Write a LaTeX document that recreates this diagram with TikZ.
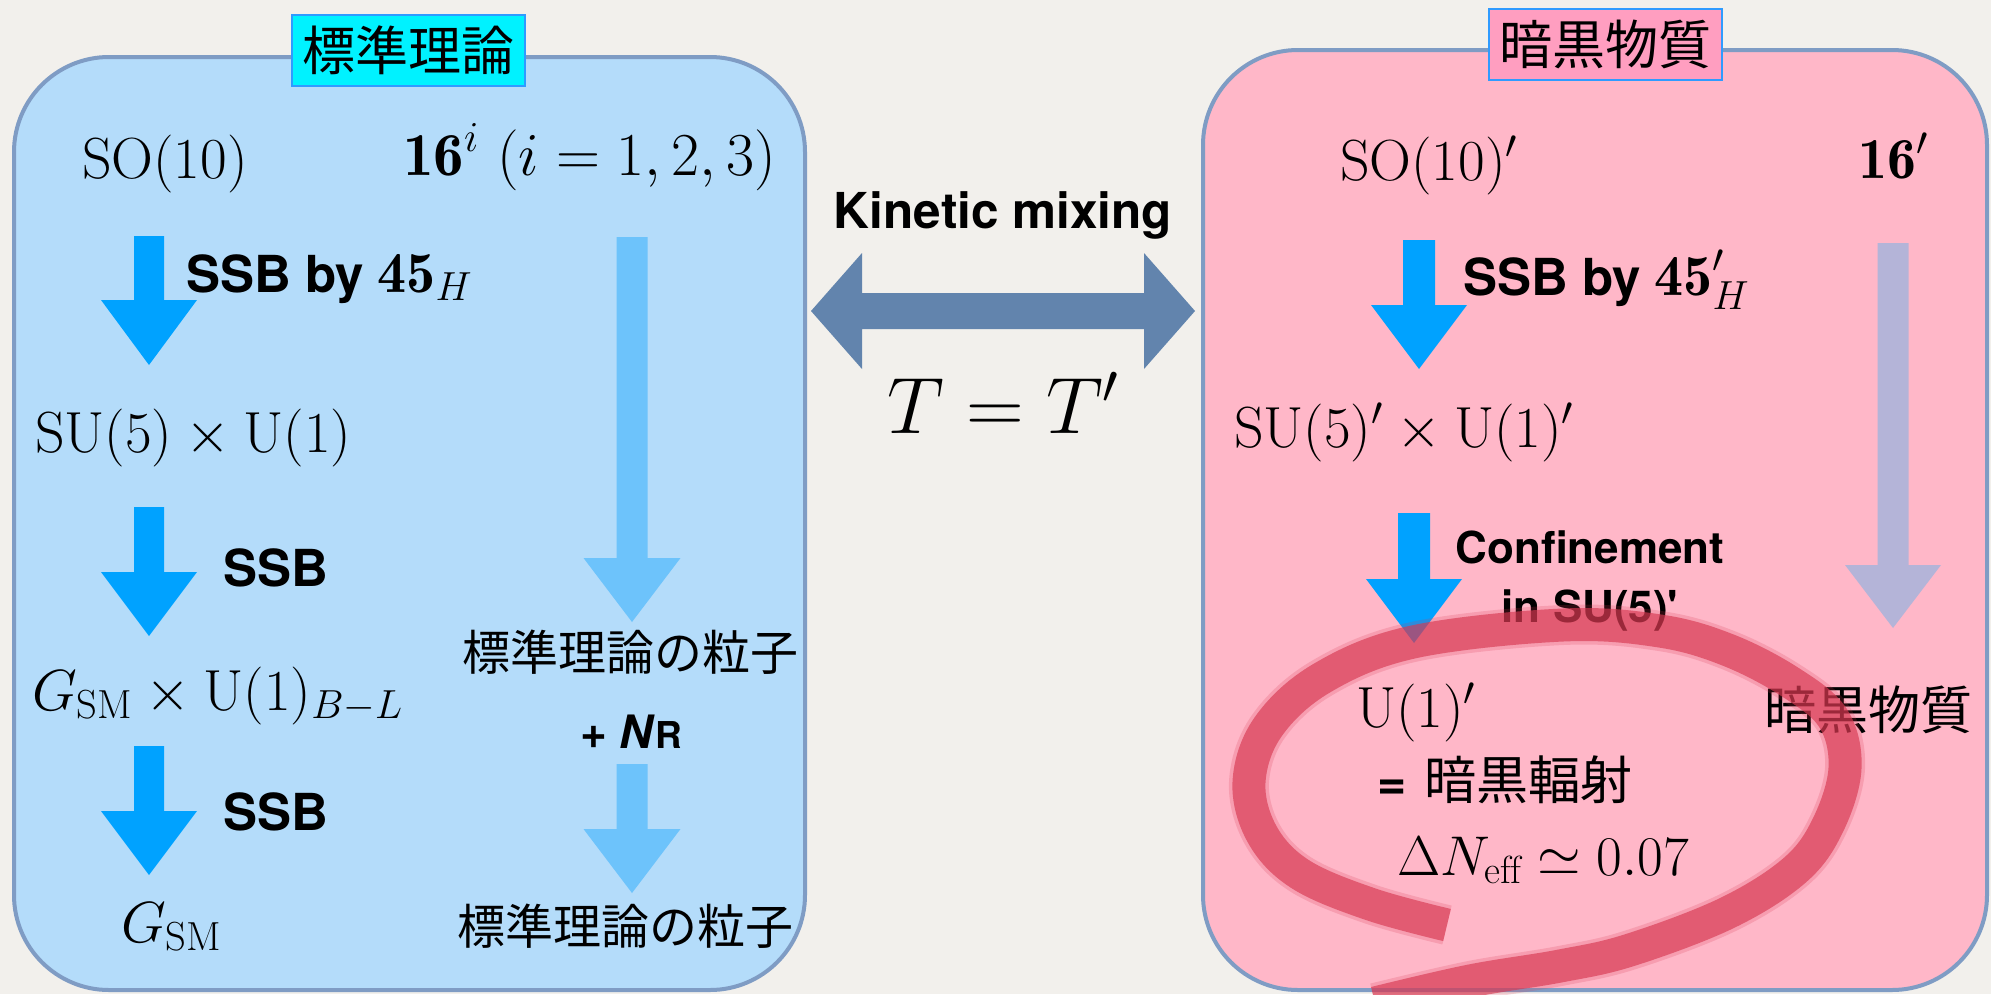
\RequirePackage{fix-cm}
\documentclass[tikz,border=0pt]{standalone}
\usepackage{fontspec}
\newfontfamily\jp{Noto Sans CJK JP}
\newfontfamily\hv{TeX Gyre Heros}

\definecolor{bg}{HTML}{F2F0EC}
\definecolor{smfill}{HTML}{B4DCFA}
\definecolor{dmfill}{HTML}{FFB7C8}
\definecolor{boxline}{HTML}{7F9CC4}
\definecolor{arrowblue}{HTML}{00A2FF}
\definecolor{arrowlight}{HTML}{6DC3FB}
\definecolor{arrowlav}{HTML}{B4B4D8}
\definecolor{mixarrow}{HTML}{6284AD}
\definecolor{cyanlab}{HTML}{00F2FF}
\definecolor{pinklab}{HTML}{FF9EC0}
\definecolor{labline}{HTML}{2F9BFF}
\definecolor{ringred}{RGB}{216,56,81}

% colour, x centre, top, head base, tip, shaft half width, head half width
\newcommand\downblock[7]{%
  \fill[#1] (#2-#6,#3) -- (#2+#6,#3) -- (#2+#6,#4) -- (#2+#7,#4) -- (#2,#5)
    -- (#2-#7,#4) -- (#2-#6,#4) -- cycle;}
\newcommand\bigmath{\fontsize{58}{60}\selectfont}

\tikzset{
  tx/.style={inner sep=0pt, outer sep=0pt, anchor=base west},
  mth/.style={font=\bigmath},
  hvb/.style={font=\hv\bfseries\fontsize{51}{54}\selectfont},
  hvc/.style={inner sep=0pt, font=\hv\bfseries\fontsize{44}{46}\selectfont},
  jpt/.style={inner sep=0pt, anchor=west, font=\jp\fontsize{48}{50}\selectfont},
  lab/.style={draw=labline, line width=2pt, inner sep=0pt, minimum width=233pt,
    minimum height=71pt, font=\jp\fontsize{53}{53}\selectfont},
  panel/.style={draw=boxline, line width=4pt, rounded corners=95pt},
}

\begin{document}
\begin{tikzpicture}[x=1pt,y=-1pt]
\useasboundingbox (0,0) rectangle (1991,994);
\fill[bg] (0,0) rectangle (1991,994);

% panels
\draw[panel, fill=smfill] (14,57) rectangle (805,990);
\draw[panel, fill=dmfill] (1203,50) rectangle (1987,990);

% titles
\node[lab, fill=cyanlab] (smlab) at (408.5,50.5) {標準理論};
\node[lab, fill=pinklab] (dmlab) at (1605,44.5) {暗黒物質};

% left panel arrows
\downblock{arrowblue}{149}{236}{300}{365}{15}{48}
\downblock{arrowblue}{149}{507}{572}{636}{15}{48}
\downblock{arrowblue}{149}{746}{811}{875}{15}{48}
\downblock{arrowlight}{632}{237}{558}{622}{15.5}{48.5}
\downblock{arrowlight}{632}{764}{829}{893}{15.5}{48.5}

% right panel arrows
\downblock{arrowblue}{1419}{240}{305}{369}{16}{48}
\downblock{arrowblue}{1414}{513}{579}{643}{16}{48}
\downblock{arrowlav}{1893}{243}{565}{628}{15.5}{48}

% kinetic mixing double arrow
\fill[mixarrow] (811,311) -- (862,253) -- (862,293) -- (1144,293) -- (1144,253)
  -- (1195,311) -- (1144,369) -- (1144,329) -- (862,329) -- (862,369) -- cycle;

% left panel text
\node[tx, mth] (so10) at (82,178) {$\mathrm{SO}(10)$};
\node[tx, font=\fontsize{61}{63}\selectfont] (sixteen) at (403,175) {$\mathbf{16}^i\ (i=1,2,3)$};
\node[tx, hvb] (ssba) at (186,292) {SSB by {\bigmath$\mathbf{45}_H$}};
\node[tx, mth] (su5) at (35,452) {$\mathrm{SU}(5)\times\mathrm{U}(1)$};
\node[tx, hvb] (ssbb) at (223,586) {SSB};
\node[tx, mth] (gsmbl) at (32,710) {$G_{\mathrm{SM}}\times\mathrm{U}(1)_{B-L}$};
\node[tx, hvb] (ssbc) at (223,830) {SSB};
\node[tx, mth] (gsm) at (121,942) {$G_{\mathrm{SM}}$};
\node[jpt] (smpa) at (462,652) {標準理論の粒子};
\node[tx, font=\hv\bfseries\fontsize{46}{48}\selectfont] (nr) at (580,748)
  {+ \textit{N}{\fontsize{37}{37}\selectfont R}};
\node[jpt] (smpb) at (457,926) {標準理論の粒子};

% middle
\node[anchor=base, inner sep=0pt, font=\hv\bfseries\fontsize{49.5}{50}\selectfont] (kin)
  at (1003,228) {Kinetic mixing};
\node[anchor=base, inner sep=0pt, font=\fontsize{80}{80}\selectfont] (tt)
  at (1003,433) {$T=T'$};

% right panel text
\node[tx, mth] (so10p) at (1340,180) {$\mathrm{SO}(10)'$};
\node[tx, mth] (sixteenp) at (1858,178) {$\mathbf{16}'$};
\node[tx, hvb] (ssbp) at (1463,295) {SSB by {\bigmath$\mathbf{45}'_H$}};
\node[tx, mth] (su5p) at (1234,447) {$\mathrm{SU}(5)'\times\mathrm{U}(1)'$};
\node[hvc, anchor=base] (confa) at (1590,563) {Confinement};
\node[hvc, anchor=base] (confb) at (1590,622) {in SU(5)\textquotesingle};
\node[tx, mth] (u1p) at (1356,727) {$\mathrm{U}(1)'$};
\node[anchor=west, inner sep=0pt] (drad) at (1377,780)
  {{\hv\bfseries\fontsize{50}{50}\selectfont =}\hspace{18pt}{\jp\fontsize{52}{52}\selectfont 暗黒輻射}};
\node[tx, font=\fontsize{56}{58}\selectfont] (neff) at (1397,875) {$\Delta N_{\mathrm{eff}}\simeq 0.07$};
\node[jpt, font=\jp\fontsize{52}{52}\selectfont] (dmtext) at (1764,710) {暗黒物質};

% hand-drawn red loop (soft edge + core)
\def\ringpath{plot[smooth, tension=0.6] coordinates {(1375,1003) (1470,981) (1560,966)
  (1630,950) (1727,913) (1795,870) (1828,825) (1845,768) (1833,718) (1790,682)
  (1728,650) (1660,631) (1563,625) (1413,642) (1322,678) (1268,727) (1249,782)
  (1262,834) (1300,874) (1370,904) (1447,925)}}
\draw[ringred, opacity=0.2, line width=40pt, line cap=butt] \ringpath;
\draw[ringred, opacity=0.65, line width=33pt, line cap=butt] \ringpath;
\end{tikzpicture}
\end{document}
